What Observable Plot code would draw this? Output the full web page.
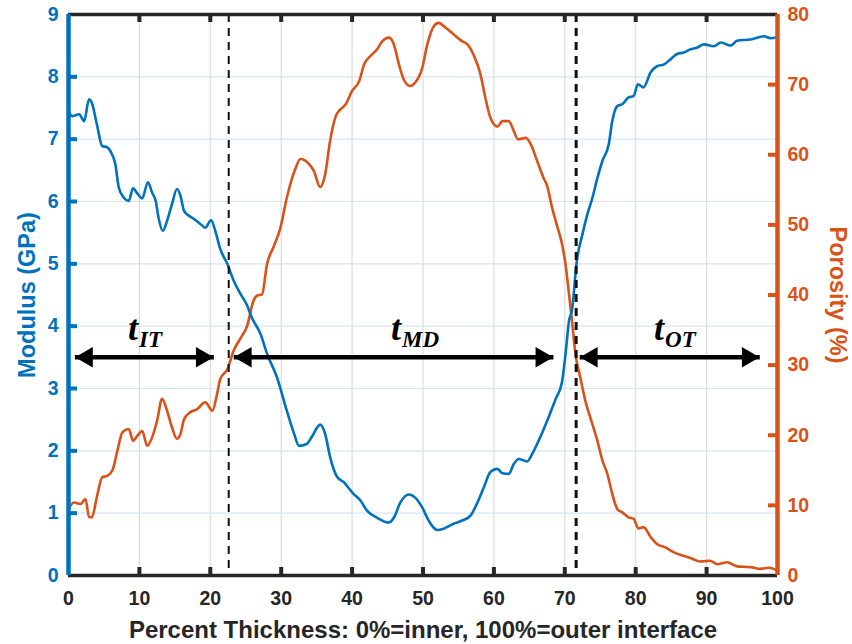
<!DOCTYPE html>
<html>
<head>
<meta charset="utf-8">
<script src="https://cdn.jsdelivr.net/npm/d3@7"></script>
<script src="https://cdn.jsdelivr.net/npm/@observablehq/plot@0.6"></script>
<style>
  html, body { margin: 0; padding: 0; background: #fff; }
  #chart { width: 852px; height: 644px; }
</style>
</head>
<body>
<div id="chart"></div>
<script>
// ---------- data ----------
const modX = [0,0.5,1.5,2.2,2.9,3.3,4.0,4.75,5.45,5.9,6.6,7.1,7.8,8.5,9.1,9.7,10.4,11.2,11.8,12.3,12.7,13.3,13.9,14.6,15.3,15.8,16.3,17.0,17.7,18.6,19.3,20.1,20.7,21.4,22.4,23.3,24.3,25.2,25.8,27.1,28.0,29.4,30.8,31.8,32.5,33.6,34.3,35.5,36.2,36.9,37.9,38.8,40.2,41.2,42.1,43.5,45.2,45.9,46.8,48.0,48.9,49.9,50.8,52.0,52.9,54.3,55.7,56.7,57.6,58.6,59.5,60.5,61.2,62.1,62.8,63.5,64.7,65.4,66.3,67.5,68.7,69.6,70.1,70.6,71.0,71.7,72.5,73.2,73.9,74.6,75.3,76.2,76.7,77.4,78.1,79.0,79.7,80.3,81.1,82.1,83.0,84.0,84.9,85.9,86.8,87.7,88.7,89.6,91.0,92.0,93.4,94.3,96.2,98.1,99.0,100];
const modY = [7.45,7.37,7.40,7.29,7.64,7.58,7.24,6.89,6.87,6.81,6.60,6.22,6.06,6.01,6.21,6.13,6.05,6.31,6.14,6.01,5.74,5.53,5.69,5.96,6.20,6.09,5.85,5.77,5.72,5.64,5.58,5.70,5.53,5.24,5.00,4.73,4.51,4.33,4.15,3.87,3.56,3.18,2.64,2.28,2.08,2.11,2.22,2.42,2.27,1.90,1.58,1.50,1.31,1.20,1.04,0.93,0.85,0.93,1.17,1.30,1.25,1.09,0.88,0.73,0.75,0.83,0.89,0.96,1.15,1.42,1.66,1.71,1.64,1.63,1.79,1.87,1.83,1.95,2.16,2.48,2.83,3.10,3.55,4.09,4.25,5.05,5.48,5.80,6.06,6.38,6.65,6.92,7.29,7.53,7.56,7.67,7.69,7.88,7.83,8.07,8.17,8.20,8.28,8.37,8.39,8.44,8.47,8.52,8.49,8.55,8.50,8.58,8.60,8.65,8.62,8.64];

const porX = [0,0.75,1.7,2.4,2.9,3.3,4.0,4.75,5.45,6.2,6.9,7.6,8.5,9.1,9.7,10.4,11.1,11.8,12.5,13.2,13.9,14.6,15.3,15.8,16.3,17.2,18.1,19.3,20.3,20.9,21.4,22.4,23.3,24.3,25.2,26.1,26.6,27.3,28.0,28.9,29.9,30.8,32.0,32.7,33.9,34.6,35.5,36.2,36.9,37.7,38.4,39.1,40.0,41.0,41.7,42.6,43.5,44.2,45.2,45.9,46.6,47.3,48.2,48.9,49.9,50.6,51.5,52.2,53.2,54.3,55.5,56.2,57.2,58.1,58.8,59.5,60.5,61.2,62.1,62.8,63.4,64.5,65.2,66.1,67.0,67.5,68.2,68.9,69.6,70.1,70.6,71.0,71.5,72.2,72.9,73.6,74.6,75.3,76.0,76.7,77.4,78.1,79.0,79.7,80.4,81.1,82.1,83.0,84.2,85.4,86.6,87.7,89.1,90.5,91.5,92.9,94.3,96.2,97.6,98.8,99.8];
const porY = [9.5,10.4,10.2,10.9,8.3,8.3,11.2,14.0,14.2,15.0,17.8,20.4,20.9,19.2,19.9,20.6,18.5,19.7,22.1,25.2,23.5,21.1,19.5,20.2,22.3,23.3,23.7,24.7,23.5,25.6,28.0,29.4,32.1,33.9,35.6,39.2,39.9,40.1,44.4,46.8,49.6,53.9,58.0,59.4,58.7,57.7,55.4,57.2,62.0,65.5,66.5,67.2,69.1,70.5,72.9,74.1,75.0,76.1,76.7,75.7,72.9,70.7,69.8,70.3,72.4,75.7,78.3,78.8,78.1,77.2,76.2,75.8,74.1,71.5,68.1,65.3,64.0,64.8,64.8,63.4,62.2,62.4,61.5,59.1,56.7,55.6,52.5,49.9,47.3,44.4,40.1,36.5,31.6,28.2,24.9,22.5,19.2,16.4,14.5,11.6,9.5,9.0,8.3,8.1,6.7,6.9,5.5,4.5,4.0,3.3,2.85,2.5,2.0,2.1,1.6,1.9,1.3,1.2,0.95,1.1,0.8];

const xTicks = [0,10,20,30,40,50,60,70,80,90,100];
const modTicks = [0,1,2,3,4,5,6,7,8,9];
const porTicks = [0,10,20,30,40,50,60,70,80];
const boundaries = [22.6, 71.6];

const arrowLevel = 3.5;            // GPa
const arrowStart = [0.9, 23.3, 72.1];
const arrowEnd   = [20.5, 68.4, 97.5];
const regionSub  = ["IT", "MD", "OT"];
const regionX    = [9.8, 46.9, 84.0];
const labelLevel = 3.78;          // GPa (baseline of t)

const xLabel = "Percent Thickness: 0%=inner, 100%=outer interface";
const yLabel = "Modulus (GPa)";
const y2Label = "Porosity (%)";

// ---------- derived ----------
const MOD_MAX = 9, POR_MAX = 80;
const porToMod = p => p * MOD_MAX / POR_MAX;
const modData = modX.map((x, i) => ({x, y: modY[i]}));
const porData = porX.map((x, i) => ({x, p: porY[i]}));
const arrows = arrowStart.map((a, i) => ({a, b: arrowEnd[i], y: arrowLevel}));
const regions = regionX.map((x, i) => ({x, sub: regionSub[i], y: labelLevel}));

const BLUE = "#0072BD", ORANGE = "#D95319", DARK = "#262626";
const SANS = "'Liberation Sans', Arial, Helvetica, sans-serif";
const SERIF = "'Liberation Serif', 'DejaVu Serif', serif";
const TICK_FS = 19.5, LABEL_FS = 24;

// layout
const W = 852, H = 644, ML = 68, MR = 75, MT = 14, MB = 69;
const FW = W - ML - MR, FH = H - MT - MB, TL = 8; // frame size, tick length

const chart = Plot.plot({
  width: W,
  height: H,
  marginLeft: ML,
  marginRight: MR,
  marginTop: MT,
  marginBottom: MB,
  x: {domain: [0, 100]},
  y: {domain: [0, MOD_MAX]},
  style: {fontFamily: SANS, fontWeight: "bold", background: "white", overflow: "visible"},
  marks: [
    // grid
    Plot.ruleX(xTicks.slice(1, -1), {stroke: "#dcdcdc", strokeWidth: 1.2}),
    Plot.ruleY(modTicks.slice(1, -1), {stroke: "#d4e6f5", strokeWidth: 1.2}),
    // curves
    Plot.line(porData, {x: "x", y: d => porToMod(d.p), stroke: ORANGE, strokeWidth: 2.6, curve: "monotone-x"}),
    Plot.line(modData, {x: "x", y: "y", stroke: BLUE, strokeWidth: 2.6, curve: "monotone-x"}),
    // region boundaries
    Plot.ruleX(boundaries.slice(0, 1), {stroke: "#111", strokeWidth: 2, strokeDasharray: "8,6"}),
    Plot.ruleX(boundaries.slice(1), {stroke: "#111", strokeWidth: 3, strokeDasharray: "8,6"}),
    // arrows
    Plot.link(arrows, {x1: "a", x2: "b", y1: "y", y2: "y", stroke: "black", strokeWidth: 4.5}),
    Plot.dot(arrows, {x: "a", y: "y", symbol: "triangle", rotate: -90, r: 7.6, fill: "black", stroke: null, dx: 12}),
    Plot.dot(arrows, {x: "b", y: "y", symbol: "triangle", rotate: 90, r: 7.6, fill: "black", stroke: null, dx: -12}),
    // region labels t_IT etc.
    Plot.text(regions, {x: "x", y: "y", text: () => "t", textAnchor: "end", lineAnchor: "bottom",
      fontFamily: SERIF, fontStyle: "italic", fontWeight: "bold", fontSize: 36, fill: "black"}),
    Plot.text(regions, {x: "x", y: "y", text: "sub", textAnchor: "start", lineAnchor: "bottom", dy: 7, dx: 1,
      fontFamily: SERIF, fontStyle: "italic", fontWeight: "bold", fontSize: 23, fill: "black"}),
    // frame lines
    Plot.ruleY([MOD_MAX], {stroke: DARK, strokeWidth: 3.5}),
    Plot.ruleY([0], {stroke: DARK, strokeWidth: 3.5}),
    Plot.ruleX([0], {stroke: BLUE, strokeWidth: 4.5}),
    Plot.ruleX([100], {stroke: ORANGE, strokeWidth: 4.5}),
    // inward tick marks
    Plot.tickX(xTicks.slice(1, -1), {x: d => d, insetTop: FH - TL, stroke: DARK, strokeWidth: 4}),
    Plot.tickX(xTicks.slice(1, -1), {x: d => d, insetBottom: FH - TL, stroke: DARK, strokeWidth: 4}),
    Plot.tickY(modTicks.slice(1, -1), {y: d => d, insetRight: FW - TL - 1, stroke: BLUE, strokeWidth: 4}),
    Plot.tickY(porTicks.slice(1, -1).map(porToMod), {y: d => d, insetLeft: FW - TL - 1, stroke: ORANGE, strokeWidth: 4}),
    // tick labels
    Plot.axisX(xTicks, {anchor: "bottom", tickSize: 0, tickPadding: 16, fontSize: TICK_FS, color: DARK, label: null, tickFormat: d => String(d)}),
    Plot.axisY(modTicks, {anchor: "left", tickSize: 0, tickPadding: 10, fontSize: TICK_FS, color: BLUE, label: null, tickFormat: d => String(d)}),
    Plot.axisY(porTicks.map(porToMod), {anchor: "right", tickSize: 0, tickPadding: 10, fontSize: TICK_FS, color: ORANGE, label: null,
      tickFormat: d => String(Math.round(d * POR_MAX / MOD_MAX))}),
    // axis titles
    Plot.text([xLabel], {text: d => d, frameAnchor: "bottom", textAnchor: "middle", lineAnchor: "middle", dy: 55, fontSize: LABEL_FS, fill: DARK, fontWeight: "bold"}),
    Plot.text([yLabel], {text: d => d, frameAnchor: "left", textAnchor: "middle", lineAnchor: "middle", dx: -41, rotate: -90, fontSize: 23.5, fill: BLUE, fontWeight: "bold"}),
    Plot.text([y2Label], {text: d => d, frameAnchor: "right", textAnchor: "middle", lineAnchor: "middle", dx: 60, rotate: 90, fontSize: 23.5, fill: ORANGE, fontWeight: "bold"})
  ]
});
document.getElementById("chart").appendChild(chart);
</script>
</body>
</html>
